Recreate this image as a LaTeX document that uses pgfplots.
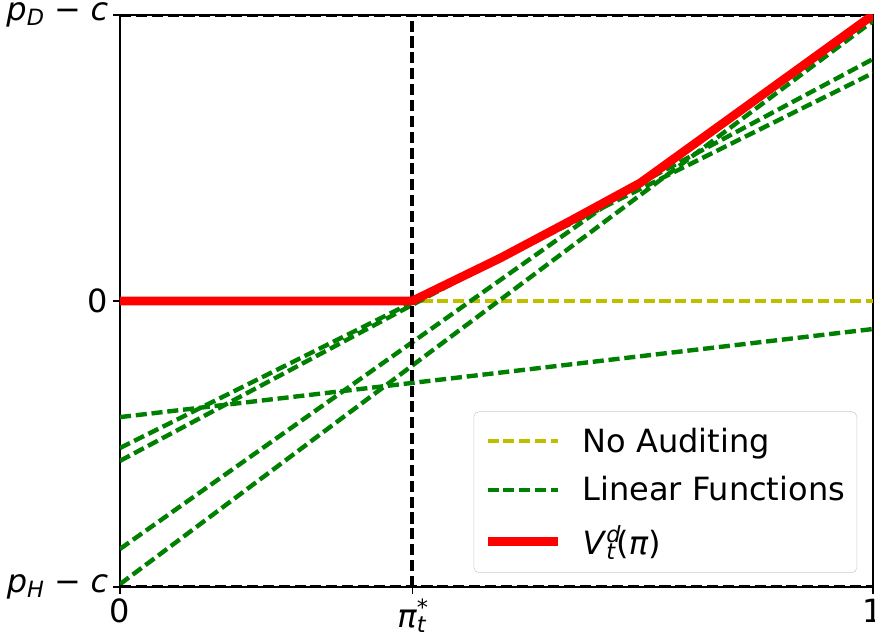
\documentclass[border=0pt]{standalone}
\usepackage{fontspec}
\setmainfont{DejaVu Sans}
\usepackage{pgfplots}
\pgfplotsset{compat=1.18}
\usetikzlibrary{calc}
\definecolor{mplgreen}{RGB}{0,128,0}
\definecolor{mplyellow}{RGB}{191,191,0}
\definecolor{mplred}{RGB}{255,0,0}

\begin{document}
\begin{tikzpicture}[font=\fontsize{24}{29}\selectfont]
\begin{axis}[
  scale only axis, width=564.75pt, height=429pt,
  xmin=0, xmax=1, ymin=-1, ymax=1,
  xtick={0,0.388,1},
  xticklabels={0,{\textit{π}\rlap{\textsuperscript{*}}\textsubscript{\textit{t}}},1},
  ytick={-1,0,1},
  yticklabels={{\textit{p}\textsubscript{\textit{H}}\hspace{0.3em}−\hspace{0.3em}\textit{c}},0,{\textit{p}\textsubscript{\textit{D}}\hspace{0.3em}−\hspace{0.3em}\textit{c}}},
  tick align=outside, major tick length=5.25pt,
  xtick pos=bottom, ytick pos=left,
  tick style={black, line width=0.8pt},
  axis line style={line width=0.8pt},
  legend cell align=left,
  legend style={at={(0.979,0.0245)}, anchor=south east, draw=black!20,
    rounded corners=4pt, fill=white, inner xsep=7pt, inner ysep=10pt,
    row sep=13pt, nodes={inner sep=2pt}, font=\fontsize{24}{29}\selectfont},
  legend image code/.code={\draw[#1] (0pt,0pt) -- (52.5pt,0pt); \path (66pt,0pt);},
  dashstyle/.style={dash pattern=on 8.3pt off 3.6pt, line width=3.3pt},
]
% no auditing
\addplot[mplyellow, dashstyle] coordinates {(0,0) (1,0)};
\addlegendentry{No Auditing}
% linear functions
\addplot[mplgreen, dashstyle] coordinates {(0,-0.406) (1,-0.098)};
\addlegendentry{Linear Functions}
\addplot[mplgreen, dashstyle, forget plot] coordinates {(0,-0.514) (1,0.797)};
\addplot[mplgreen, dashstyle, forget plot] coordinates {(0,-0.559) (1,0.846)};
\addplot[mplgreen, dashstyle, forget plot] coordinates {(0,-0.867) (1,0.995)};
\addplot[mplgreen, dashstyle, forget plot] coordinates {(0,-0.990) (1,0.979)};
% reference lines
\addplot[black, dashstyle, forget plot] coordinates {(0.388,-1) (0.388,1)};
\addplot[black, dashstyle, forget plot] coordinates {(0,1) (1,1)};
\addplot[black, dashstyle, forget plot] coordinates {(0,-1) (1,-1)};
% value function
\addplot[mplred, line width=6.5pt, line join=round] coordinates {
  (0,0) (0.388,0) (0.505,0.150) (0.598,0.280) (0.691,0.413) (0.80,0.62) (1,1.0)};
\addlegendentry{\textit{V}\rlap{\textsuperscript{\textit{d}}}\textsubscript{\textit{t}}(\textit{π})}
\end{axis}
\pgfresetboundingbox
\path ($(current axis.south west)+(-90pt,-42.75pt)$) rectangle ($(current axis.north east)+(1.5pt,11.25pt)$);
\end{tikzpicture}
\end{document}
